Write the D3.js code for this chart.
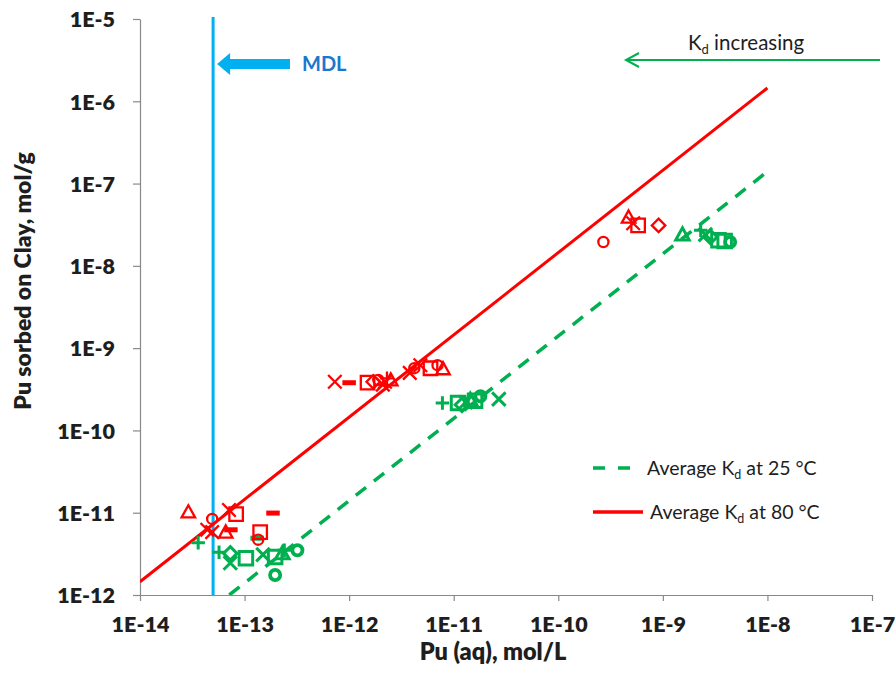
<!DOCTYPE html>
<html>
<head>
<meta charset="utf-8">
<script src="https://cdn.jsdelivr.net/npm/d3@7"></script>
<style>
  html, body { margin: 0; padding: 0; background: #fff; }
  svg { display: block; }
  text { font-family: Lato, "Open Sans", "Liberation Sans", sans-serif; }
</style>
</head>
<body>
<svg id="chart" width="896" height="684"></svg>
<script>
// Pu sorption on clay: aqueous Pu vs sorbed Pu, at 80 °C (red) and 25 °C (green)
const aq80 = [2.9e-14, 4.9e-14, 7.1e-14, 8.3e-14, 4.4e-14, 4.9e-14, 6.6e-14, 7.4e-14, 1.87e-13, 1.41e-13, 1.35e-13,
              7.3e-13, 1.0e-12, 1.5e-12, 1.7e-12, 1.9e-12, 2.1e-12, 2.3e-12, 2.5e-12, 2.2e-12, 3.8e-12, 4.2e-12, 4.8e-12, 6.0e-12, 7.0e-12, 7.9e-12,
              2.7e-10, 4.7e-10, 5.2e-10, 5.8e-10, 9.1e-10];
const sorbed80 = [1.02e-11, 8.4e-12, 1.08e-11, 9.6e-12, 6.2e-12, 5.8e-12, 5.8e-12, 6.2e-12, 9.9e-12, 5.8e-12, 4.7e-12,
                  3.9e-10, 3.8e-10, 3.8e-10, 3.9e-10, 4.1e-10, 3.6e-10, 4.3e-10, 4.1e-10, 3.9e-10, 5.0e-10, 5.7e-10, 6.2e-10, 5.7e-10, 6.2e-10, 5.6e-10,
                  1.95e-8, 3.9e-8, 3.3e-8, 3.1e-8, 3.1e-8];
const marker80 = ["triangle", "circle", "cross", "square", "cross", "cross", "triangle", "dash", "dash", "square", "circle",
                  "cross", "dash", "square", "diamond", "circle", "cross", "plus", "triangle", "cross", "cross", "circle", "cross", "square", "circle", "triangle",
                  "circle", "triangle", "cross", "square", "diamond"];

const aq25 = [3.6e-14, 5.7e-14, 7.3e-14, 7.3e-14, 1.03e-13, 1.5e-13, 1.96e-13, 2.3e-13, 2.4e-13, 3.2e-13, 1.96e-13, 1.32e-13,
              7.8e-12, 1.1e-11, 1.2e-11, 1.3e-11, 1.44e-11, 1.6e-11, 1.8e-11, 2.7e-11,
              1.54e-9, 2.3e-9, 2.55e-9, 2.85e-9, 3.4e-9, 3.9e-9, 4.4e-9];
const sorbed25 = [4.3e-12, 3.3e-12, 3.2e-12, 2.45e-12, 2.8e-12, 3.1e-12, 2.9e-12, 3.2e-12, 3.5e-12, 3.5e-12, 1.75e-12, 4.9e-12,
                  2.15e-10, 2.15e-10, 2.05e-10, 2.2e-10, 2.35e-10, 2.3e-10, 2.6e-10, 2.4e-10,
                  2.4e-8, 2.7e-8, 2.4e-8, 2.25e-8, 2.05e-8, 2.0e-8, 1.95e-8];
const marker25 = ["plus", "plus", "diamond", "cross", "square", "cross", "square", "triangle", "plus", "circle", "circle", "dash",
                  "plus", "square", "diamond", "cross", "triangle", "square", "circle", "cross",
                  "triangle", "plus", "cross", "diamond", "square", "square", "circle"];

// Average distribution coefficients, L/g
const kd80 = 145;
const kd25 = 14;
const kdLineRange = [1e-14, 1e-8];

// Method detection limit for aqueous Pu, mol/L
const mdl = 5e-14;

const xTicks = [1e-14, 1e-13, 1e-12, 1e-11, 1e-10, 1e-9, 1e-8, 1e-7];
const xTickLabels = ["1E-14", "1E-13", "1E-12", "1E-11", "1E-10", "1E-9", "1E-8", "1E-7"];
const yTicks = [1e-12, 1e-11, 1e-10, 1e-9, 1e-8, 1e-7, 1e-6, 1e-5];
const yTickLabels = ["1E-12", "1E-11", "1E-10", "1E-9", "1E-8", "1E-7", "1E-6", "1E-5"];

const RED = "#ff0000", GREEN = "#00b050", SKY = "#00b0f0";
const plotL = 140, plotR = 872, plotT = 19, plotB = 595;

const svg = d3.select("#chart");
const x = d3.scaleLog().domain([1e-14, 1e-7]).range([plotL, plotR]);
const y = d3.scaleLog().domain([1e-12, 1e-5]).range([plotB, plotT]);

svg.append("defs").append("clipPath").attr("id", "plotClip")
  .append("rect").attr("x", plotL).attr("y", plotT - 2).attr("width", plotR - plotL).attr("height", plotB - plotT + 2);

// Axes
const xAxis = d3.axisBottom(x).tickValues(xTicks).tickFormat((d, i) => xTickLabels[i]).tickSize(6).tickSizeOuter(0);
const yAxis = d3.axisLeft(y).tickValues(yTicks).tickFormat((d, i) => yTickLabels[i]).tickSize(7).tickSizeOuter(0);

const gx = svg.append("g").attr("transform", `translate(0,${plotB})`).call(xAxis);
const gy = svg.append("g").attr("transform", `translate(${plotL},0)`).call(yAxis);
[gx, gy].forEach(g => {
  g.select(".domain").attr("stroke", "#898989").attr("stroke-width", 1.2);
  g.selectAll(".tick line").attr("stroke", "#898989").attr("stroke-width", 1.2);
  g.selectAll(".tick text").attr("fill", "#1e1e1e").attr("font-size", 21.5).attr("font-weight", 800)
    .style("font-family", "Lato, 'Open Sans', sans-serif");
});
gx.selectAll(".tick text").attr("dy", "0").attr("y", 37);
gy.selectAll(".tick text").attr("x", -25).attr("dy", "0.36em");

// Axis titles
svg.append("text").attr("x", 493).attr("y", 660).attr("text-anchor", "middle")
  .attr("font-size", 23.5).attr("font-weight", 800).attr("fill", "#1e1e1e").text("Pu (aq), mol/L");
svg.append("text").attr("transform", "translate(31,281) rotate(-90)").attr("text-anchor", "middle")
  .attr("font-size", 23).attr("font-weight", 800).attr("fill", "#1e1e1e").text("Pu sorbed on Clay, mol/g");

const plot = svg.append("g").attr("clip-path", "url(#plotClip)");

// MDL vertical line
plot.append("line").attr("x1", x(mdl)).attr("x2", x(mdl)).attr("y1", plotT - 2).attr("y2", plotB)
  .attr("stroke", SKY).attr("stroke-width", 3);

// Average Kd lines
const kdLine = kd => {
  const lo = Math.max(kdLineRange[0], y.domain()[0] / kd);
  return [[lo, lo * kd], [kdLineRange[1], kdLineRange[1] * kd]];
};
const lineGen = d3.line().x(d => x(d[0])).y(d => y(d[1]));
plot.append("path").attr("d", lineGen(kdLine(kd25))).attr("fill", "none")
  .attr("stroke", GREEN).attr("stroke-width", 3.5).attr("stroke-dasharray", "13,10");
plot.append("path").attr("d", lineGen(kdLine(kd80))).attr("fill", "none")
  .attr("stroke", RED).attr("stroke-width", 3);

// Marker shapes, drawn centred on (0,0)
function markerPath(shape, s) {
  const h = s / 2;
  switch (shape) {
    case "triangle": return `M0,${-h}L${h},${h * 0.8}L${-h},${h * 0.8}Z`;
    case "square": return `M${-h},${-h}H${h}V${h}H${-h}Z`;
    case "diamond": return `M0,${-h}L${h},0L0,${h}L${-h},0Z`;
    case "cross": return `M${-h},${-h}L${h},${h}M${h},${-h}L${-h},${h}`;
    case "plus": return `M${-h},0H${h}M0,${-h}V${h}`;
    case "dash": return `M${-h},0H${h}`;
    case "circle": {
      const r = h * 0.75;
      return `M${r},0A${r},${r} 0 1,1 ${-r},0A${r},${r} 0 1,1 ${r},0Z`;
    }
  }
}

function drawSeries(aq, sorbed, markers, color, width, size) {
  const pts = aq.map((v, i) => ({ x: v, y: sorbed[i], m: markers[i] }));
  plot.append("g").selectAll("path").data(pts).join("path")
    .attr("transform", d => `translate(${x(d.x)},${y(d.y)})`)
    .attr("d", d => markerPath(d.m, size))
    .attr("fill", "none")
    .attr("stroke", color)
    .attr("stroke-width", d => d.m === "dash" ? 5 : (d.m === "circle" && color === GREEN ? width + 0.8 : width));
}
drawSeries(aq25, sorbed25, marker25, GREEN, 3, 13.5);
drawSeries(aq80, sorbed80, marker80, RED, 2.3, 13.5);

// MDL annotation arrow
const my = 64, tipX = x(mdl) + 4;
svg.append("path")
  .attr("d", `M${tipX},${my}L${tipX + 13},${my - 11}L${tipX + 13},${my - 5}L290,${my - 5}L290,${my + 5}L${tipX + 13},${my + 5}L${tipX + 13},${my + 11}Z`)
  .attr("fill", SKY);
svg.append("text").attr("x", 302).attr("y", my + 7).attr("font-size", 20).attr("font-weight", "bold")
  .attr("fill", "#1a78cc").text("MDL");

// "Kd increasing" arrow
svg.append("line").attr("x1", 626).attr("x2", 880).attr("y1", 60).attr("y2", 60)
  .attr("stroke", GREEN).attr("stroke-width", 2);
svg.append("path").attr("d", "M639,53L626,60L639,67").attr("fill", "none")
  .attr("stroke", GREEN).attr("stroke-width", 2);
const kdText = svg.append("text").attr("x", 688).attr("y", 50).attr("font-size", 20.5).attr("fill", "#1e1e1e");
kdText.append("tspan").text("K");
kdText.append("tspan").attr("font-size", 13).attr("dy", 4).text("d");
kdText.append("tspan").attr("dy", -4).text(" increasing");

// Legend
const legend = svg.append("g");
const legendRows = [
  { y: 468, color: GREEN, dash: "12,13", label: "25 °C", x2: 631, tx: 647 },
  { y: 512, color: RED, dash: null, label: "80 °C", x2: 643, tx: 650 }
];
legendRows.forEach(r => {
  legend.append("line").attr("x1", 593).attr("x2", r.x2).attr("y1", r.y).attr("y2", r.y)
    .attr("stroke", r.color).attr("stroke-width", 3.5).attr("stroke-dasharray", r.dash);
  const t = legend.append("text").attr("x", r.tx).attr("y", r.y + 7).attr("font-size", 19.5).attr("fill", "#1e1e1e");
  t.append("tspan").text("Average K");
  t.append("tspan").attr("font-size", 12.5).attr("dy", 4).text("d");
  t.append("tspan").attr("dy", -4).text(" at " + r.label);
});
</script>
</body>
</html>
